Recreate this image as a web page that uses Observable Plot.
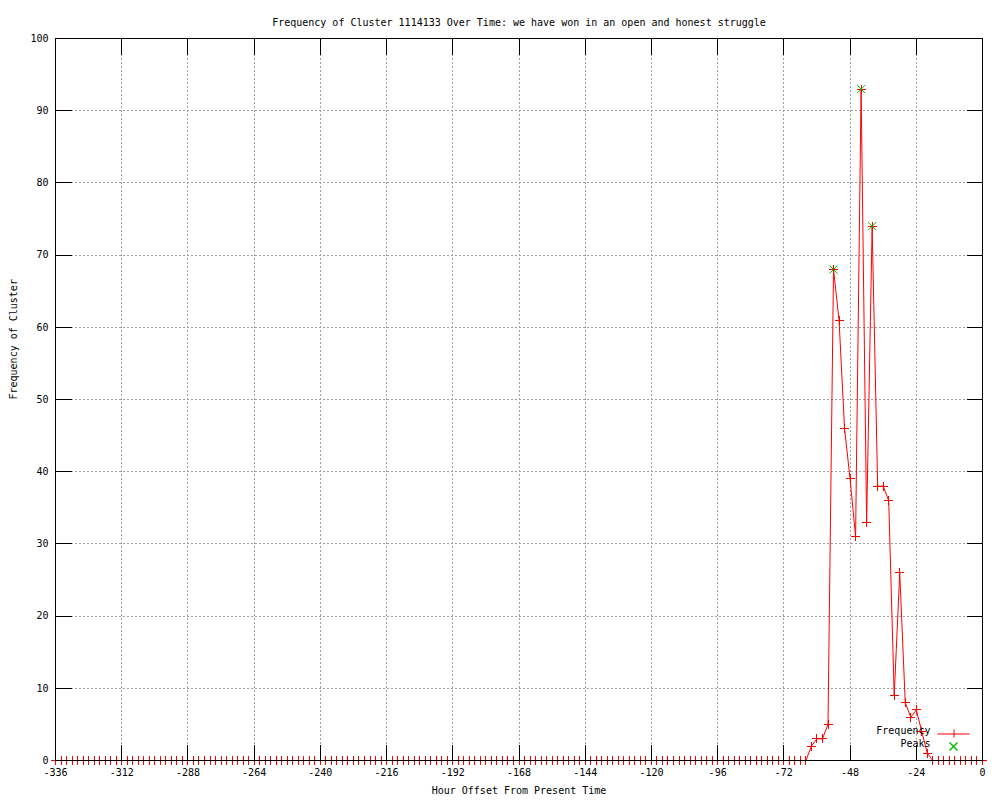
<!DOCTYPE html>
<html>
<head>
<meta charset="utf-8">
<script src="https://cdn.jsdelivr.net/npm/d3@7"></script>
<script src="https://cdn.jsdelivr.net/npm/@observablehq/plot@0.6"></script>
<style>
  html, body { margin: 0; padding: 0; background: #fff; }
  svg { display: block; }
</style>
</head>
<body>
<div id="chart"></div>
<script>
// ---- data ----
const title = "Frequency of Cluster 1114133 Over Time: we have won in an open and honest struggle";
const xLabel = "Hour Offset From Present Time";
const yLabel = "Frequency of Cluster";
const legendLabels = ["Frequency", "Peaks"];

// hour offsets, one sample every 2 hours from -336 to 0
const hours = d3.range(-336, 1, 2);
// frequency at each hour offset
const frequency = [
  0,0,0,0,0,0,0,0,0,0, 0,0,0,0,0,0,0,0,0,0,
  0,0,0,0,0,0,0,0,0,0, 0,0,0,0,0,0,0,0,0,0,
  0,0,0,0,0,0,0,0,0,0, 0,0,0,0,0,0,0,0,0,0,
  0,0,0,0,0,0,0,0,0,0, 0,0,0,0,0,0,0,0,0,0,
  0,0,0,0,0,0,0,0,0,0, 0,0,0,0,0,0,0,0,0,0,
  0,0,0,0,0,0,0,0,0,0, 0,0,0,0,0,0,0,0,0,0,
  0,0,0,0,0,0,0,0,0,0, 0,0,0,0,0,0,0,
  2,3,3,5,68,61,46,39,31,93,33,74,38,38,36,9,26,8,6,7,4,1,
  0,0,0,0,0,0,0,0,0,0
];
const peakHours = [-54, -44, -40];
const peakValues = [68, 93, 74];

const xTicks = [-336,-312,-288,-264,-240,-216,-192,-168,-144,-120,-96,-72,-48,-24,0];
const yTicks = [0,10,20,30,40,50,60,70,80,90,100];

const series = hours.map((h, i) => ({hour: h, value: frequency[i]}));
const peaks = peakHours.map((h, i) => ({hour: h, value: peakValues[i]}));

// ---- custom symbols (gnuplot-like point types) ----
const plusSym = {draw(ctx, size) { const r = Math.sqrt(size / Math.PI); ctx.moveTo(-r, 0); ctx.lineTo(r, 0); ctx.moveTo(0, -r); ctx.lineTo(0, r); }};
const crossSym = {draw(ctx, size) { const r = Math.sqrt(size / Math.PI); ctx.moveTo(-r, -r); ctx.lineTo(r, r); ctx.moveTo(-r, r); ctx.lineTo(r, -r); }};
const T = 16;
const tickUp = {draw(ctx) { ctx.moveTo(0, 0); ctx.lineTo(0, -T); }};
const tickDown = {draw(ctx) { ctx.moveTo(0, 0); ctx.lineTo(0, T); }};
const tickRight = {draw(ctx) { ctx.moveTo(0, 0); ctx.lineTo(T, 0); }};
const tickLeft = {draw(ctx) { ctx.moveTo(0, 0); ctx.lineTo(-T, 0); }};
const legendLine = {draw(ctx) { ctx.moveTo(-16, 0.5); ctx.lineTo(16, 0.5); ctx.moveTo(0.5, -4); ctx.lineTo(0.5, 4); }};

const innerX = xTicks.slice(1, -1);
const innerY = yTicks.slice(1, -1);
const crisp = {shapeRendering: "crispEdges"};
const grid = {stroke: "#a0a0a0", strokeWidth: 1, strokeDasharray: "2,2", ...crisp};
const tickStyle = {stroke: "black", fill: "none", strokeWidth: 1, ...crisp};
const font = {fontFamily: "'DejaVu Sans Mono', monospace", fontSize: 10};

const chart = Plot.plot({
  width: 1000,
  height: 800,
  marginLeft: 55,
  marginRight: 18,
  marginTop: 38,
  marginBottom: 40,
  style: {fontFamily: "'DejaVu Sans Mono', monospace", fontSize: "10px", color: "black", background: "white"},
  x: {domain: [-336, 0], ticks: xTicks, tickSize: 0, tickPadding: 8, tickFormat: d => String(d), label: null},
  y: {domain: [0, 100], ticks: yTicks, tickSize: 0, tickPadding: 7, tickFormat: d => String(d), label: null},
  marks: [
    Plot.ruleX(innerX, {x: d => d, ...grid}),
    Plot.ruleY(innerY, {y: d => d, ...grid}),
    Plot.line(series, {x: "hour", y: "value", stroke: "#ff0000", strokeWidth: 1}),
    Plot.dot(series, {x: "hour", y: "value", symbol: plusSym, r: 4.5, stroke: "#ff0000", fill: "none", strokeWidth: 1, ...crisp}),
    Plot.dot(peaks, {x: "hour", y: "value", symbol: crossSym, r: 4, stroke: "#00c000", fill: "none", strokeWidth: 1}),
    Plot.frame({stroke: "black", strokeWidth: 1, ...crisp}),
    // inward tick marks on all four borders
    Plot.dot(innerX, {x: d => d, y: () => 0, symbol: tickUp, ...tickStyle}),
    Plot.dot(innerX, {x: d => d, y: () => 100, symbol: tickDown, ...tickStyle}),
    Plot.dot(innerY, {y: d => d, x: () => -336, symbol: tickRight, ...tickStyle}),
    Plot.dot(innerY, {y: d => d, x: () => 0, symbol: tickLeft, ...tickStyle}),
    // titles
    Plot.text([title], {frameAnchor: "top", dy: -20, text: d => d, ...font, fill: "black"}),
    Plot.text([xLabel], {frameAnchor: "bottom", dy: 33, text: d => d, ...font, fill: "black"}),
    Plot.text([yLabel], {frameAnchor: "left", dx: -42, rotate: -90, text: d => d, ...font, fill: "black"}),
    // legend
    Plot.text([legendLabels[0]], {frameAnchor: "bottom-right", dx: -52, dy: -27, textAnchor: "end", text: d => d, ...font, fill: "black"}),
    Plot.text([legendLabels[1]], {frameAnchor: "bottom-right", dx: -52, dy: -14, textAnchor: "end", text: d => d, ...font, fill: "black"}),
    Plot.dot([legendLabels[0]], {frameAnchor: "bottom-right", dx: -29, dy: -27, symbol: legendLine, stroke: "#ff0000", fill: "none", strokeWidth: 1}),
    Plot.dot([legendLabels[1]], {frameAnchor: "bottom-right", dx: -29, dy: -14, symbol: crossSym, r: 4, stroke: "#00c000", fill: "none"})
  ]
});
document.getElementById("chart").appendChild(chart);
</script>
</body>
</html>
